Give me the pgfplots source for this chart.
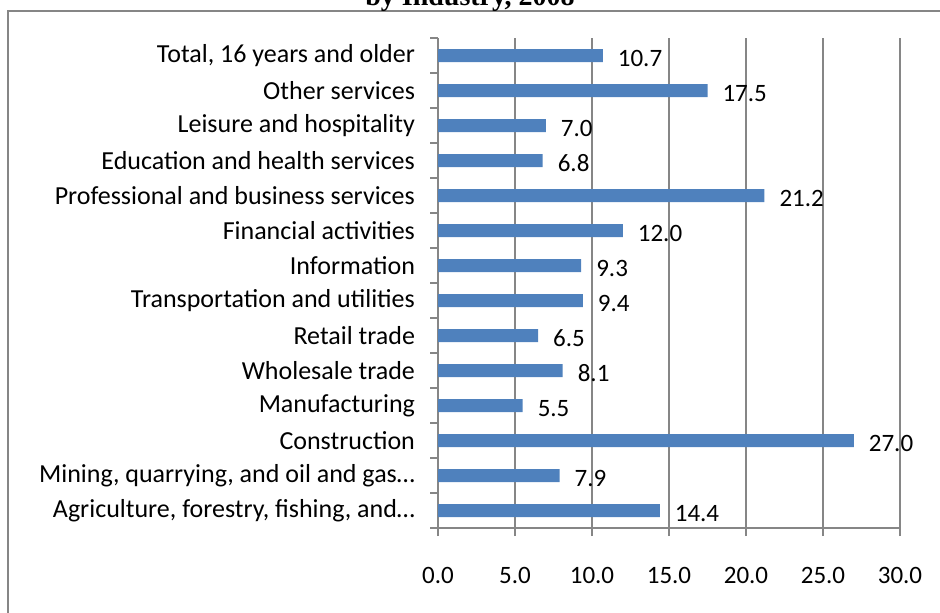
\documentclass[border=0pt]{standalone}
\usepackage{pgfplots}
\pgfplotsset{compat=1.18}
\usepackage{fontspec}
\setmainfont{Carlito}
\newfontfamily\titlefont{Liberation Serif}
\definecolor{barblue}{HTML}{4F81BD}
\definecolor{gridgray}{HTML}{868686}
\begin{document}
\begin{tikzpicture}
\useasboundingbox (0,0) rectangle (470pt,306pt);
\draw[gridgray, line width=1pt] (4pt,-20pt) -- (4pt,300.5pt) -- (490pt,300.5pt);
\node[anchor=base, font=\titlefont\bfseries\fontsize{14}{16}\selectfont] at (235pt,303pt) {by Industry, 2008};
\begin{axis}[
  at={(219pt,42pt)}, anchor=south west,
  scale only axis, width=231pt, height=245pt,
  xbar, bar width=6.5pt,
  xmin=0, xmax=30, ymin=-0.5, ymax=13.5,
  xtick={0,5,...,30},
  xticklabel={\pgfmathprintnumber[fixed,fixed zerofill,precision=1]{\tick}},
  /pgf/number format/assume math mode=true,
  ytick={0,...,13},
  yticklabels={{Agriculture, forestry, fishing, and\ldots},{Mining, quarrying, and oil and gas\ldots},Construction,Manufacturing,Wholesale trade,Retail trade,Transportation and utilities,Information,Financial activities,Professional and business services,Education and health services,Leisure and hospitality,Other services,{Total, 16 years and older}},
  minor ytick={-0.5,0.5,...,13.5},
  major y tick style={draw=none},
  minor y tick style={gridgray, line width=1.2pt},
  minor tick length=4pt,
  major tick length=4pt,
  tick align=outside,
  x tick style={gridgray, line width=1.2pt},
  xmajorgrids, grid style={gridgray, line width=1.2pt},
  axis x line*=bottom, axis y line*=left,
  axis line style={gridgray, line width=1.2pt, -},
  tick label style={font=\fontsize{13}{15}\selectfont, text=black},
  yticklabel style={xshift=-4pt},
  xticklabel style={yshift=-12pt, font=\fontsize{12.5}{15}\selectfont},
  nodes near coords,
  nodes near coords style={font=\fontsize{12.5}{15}\selectfont, anchor=west, xshift=4pt, yshift=-1.5pt,
    /pgf/number format/.cd, fixed, fixed zerofill, precision=1},
  clip=false,
]
\addplot[fill=barblue, draw=none] coordinates {
(14.4,0) (7.9,1) (27.0,2) (5.5,3) (8.1,4) (6.5,5) (9.4,6) (9.3,7) (12.0,8) (21.2,9) (6.8,10) (7.0,11) (17.5,12) (10.7,13)};
\end{axis}
\end{tikzpicture}
\end{document}
